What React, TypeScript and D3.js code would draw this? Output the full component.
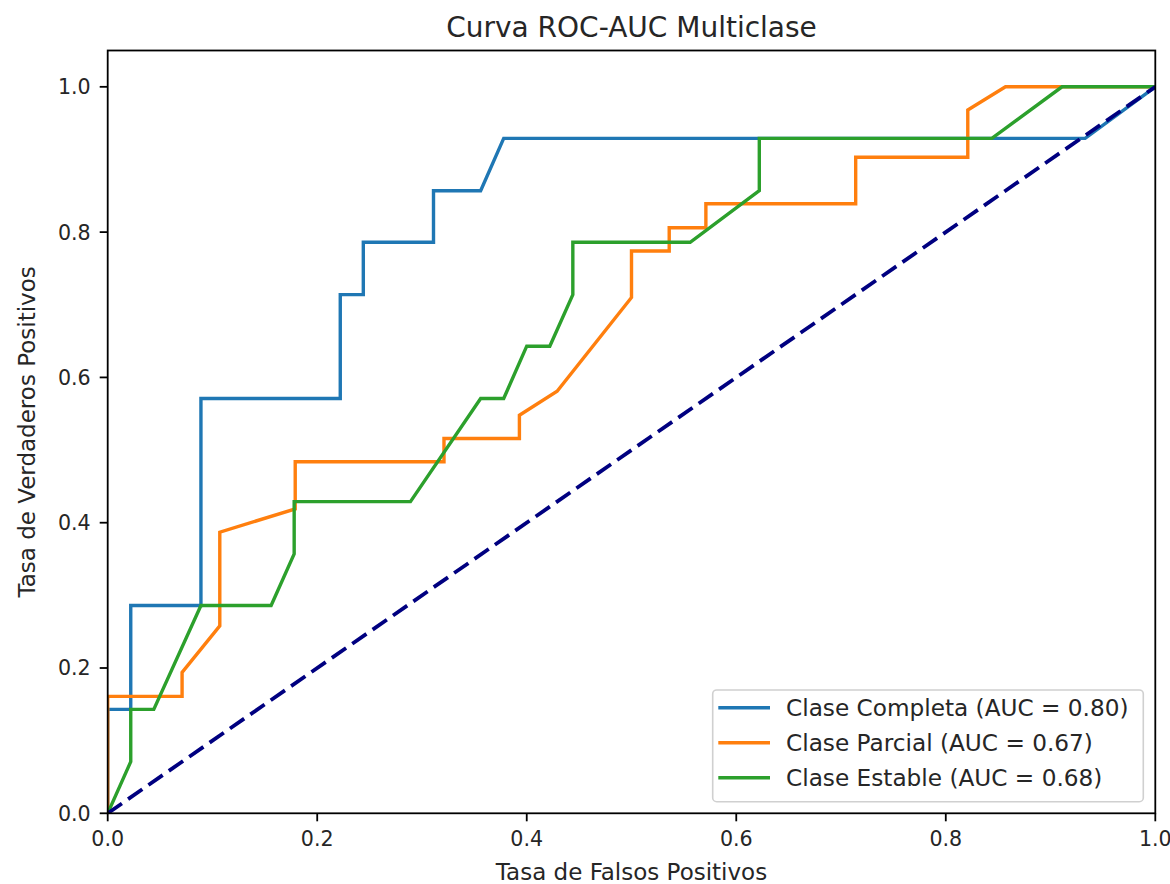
import React from 'react';
import * as d3 from 'd3';

// ROC curves
const completaFpr = [0, 0, 0.022, 0.022, 0.089, 0.089, 0.222, 0.222, 0.244, 0.244, 0.311, 0.311, 0.356, 0.378, 0.933, 1];
const completaTpr = [0, 0.143, 0.143, 0.286, 0.286, 0.571, 0.571, 0.714, 0.714, 0.786, 0.786, 0.857, 0.857, 0.929, 0.929, 1];

const parcialFpr = [0, 0, 0.071, 0.071, 0.107, 0.107, 0.179, 0.179, 0.321, 0.321, 0.393, 0.393, 0.429, 0.5, 0.5, 0.536, 0.536, 0.571, 0.571, 0.714, 0.714, 0.821, 0.821, 0.857, 1];
const parcialTpr = [0, 0.161, 0.161, 0.194, 0.258, 0.387, 0.419, 0.484, 0.484, 0.516, 0.516, 0.548, 0.581, 0.71, 0.774, 0.774, 0.806, 0.806, 0.839, 0.839, 0.903, 0.903, 0.968, 1, 1];

const estableFpr = [0, 0.022, 0.022, 0.044, 0.089, 0.156, 0.178, 0.178, 0.289, 0.356, 0.378, 0.4, 0.422, 0.444, 0.444, 0.556, 0.622, 0.622, 0.844, 0.911, 1];
const estableTpr = [0, 0.071, 0.143, 0.143, 0.286, 0.286, 0.357, 0.429, 0.429, 0.571, 0.571, 0.643, 0.643, 0.714, 0.786, 0.786, 0.857, 0.929, 0.929, 1, 1];

const classNames = ['Clase Completa', 'Clase Parcial', 'Clase Estable'];
const aucValues = ['0.80', '0.67', '0.68'];
const xTicks = [0, 0.2, 0.4, 0.6, 0.8, 1.0];
const yTicks = [0, 0.2, 0.4, 0.6, 0.8, 1.0];

const colors = ['#1f77b4', '#ff7f0e', '#2ca02c'];
const font = '"DejaVu Sans", sans-serif';

const App = () => {
  const width = 1170;
  const height = 884;
  const margin = { top: 50.5, right: 14.7, bottom: 70.7, left: 107.7 };

  const x = d3.scaleLinear().domain([0, 1]).range([margin.left, width - margin.right]);
  const y = d3.scaleLinear().domain([0, 1.05]).range([height - margin.bottom, margin.top]);

  const curves = [
    [completaFpr, completaTpr],
    [parcialFpr, parcialTpr],
    [estableFpr, estableTpr],
  ];

  const line = d3.line<[number, number]>()
    .x(d => x(d[0]))
    .y(d => y(d[1]));

  const toPoints = (fpr: number[], tpr: number[]) => fpr.map((v, i) => [v, tpr[i]] as [number, number]);

  const x0 = x(0), x1 = x(1), yTop = y(1.05), yBot = y(0);

  // legend
  const lgX = 712.7, lgY = 690, lgW = 430.6, lgH = 111.7;

  return (
    <svg width={width} height={height} style={{ position: 'absolute', left: 0, top: 0, background: '#fff' }}>
      <defs>
        <clipPath id="plotArea">
          <rect x={x0} y={yTop} width={x1 - x0} height={yBot - yTop} />
        </clipPath>
      </defs>

      <g clipPath="url(#plotArea)">
        {curves.map((c, i) => (
          <path key={i} d={line(toPoints(c[0], c[1])) || ''} fill="none" stroke={colors[i]}
            strokeWidth={3.4} strokeLinejoin="miter" strokeLinecap="square" />
        ))}
        <path d={line([[0, 0], [1, 1]]) || ''} fill="none" stroke="#000080" strokeWidth={3.8}
          strokeDasharray="17.3,7.5" />
      </g>

      {/* spines */}
      <rect x={x0} y={yTop} width={x1 - x0} height={yBot - yTop} fill="none" stroke="#000" strokeWidth={1.8} />

      {/* x ticks */}
      {xTicks.map(t => (
        <g key={'x' + t}>
          <line x1={x(t)} x2={x(t)} y1={yBot} y2={yBot + 8} stroke="#000" strokeWidth={1.8} />
          <text x={x(t)} y={yBot + 33} textAnchor="middle" fontFamily={font} fontSize={20.6} fill="#262626">
            {d3.format('.1f')(t)}
          </text>
        </g>
      ))}

      {/* y ticks */}
      {yTicks.map(t => (
        <g key={'y' + t}>
          <line x1={x0 - 8} x2={x0} y1={y(t)} y2={y(t)} stroke="#000" strokeWidth={1.8} />
          <text x={x0 - 17} y={y(t)} dy="0.36em" textAnchor="end" fontFamily={font} fontSize={20.6} fill="#262626">
            {d3.format('.1f')(t)}
          </text>
        </g>
      ))}

      {/* axis labels & title */}
      <text x={(x0 + x1) / 2} y={880} textAnchor="middle" fontFamily={font} fontSize={23} fill="#262626">
        Tasa de Falsos Positivos
      </text>
      <text transform={`translate(35, ${(yTop + yBot) / 2}) rotate(-90)`} textAnchor="middle"
        fontFamily={font} fontSize={23} fill="#262626">
        Tasa de Verdaderos Positivos
      </text>
      <text x={(x0 + x1) / 2} y={37.3} textAnchor="middle" fontFamily={font} fontSize={28} fill="#262626">
        Curva ROC-AUC Multiclase
      </text>

      {/* legend */}
      <g>
        <rect x={lgX} y={lgY} width={lgW} height={lgH} rx={4} ry={4} fill="#fff" fillOpacity={0.8}
          stroke="#d0d0d0" strokeWidth={1.6} />
        {classNames.map((name, i) => (
          <g key={name}>
            <line x1={718.3} x2={770} y1={707.7 + i * 35} y2={707.7 + i * 35} stroke={colors[i]} strokeWidth={3.4} />
            <text x={786} y={707.7 + i * 35} dy="0.36em" fontFamily={font} fontSize={23.2} fill="#262626">
              {`${name} (AUC = ${aucValues[i]})`}
            </text>
          </g>
        ))}
      </g>
    </svg>
  );
};

export default App;
